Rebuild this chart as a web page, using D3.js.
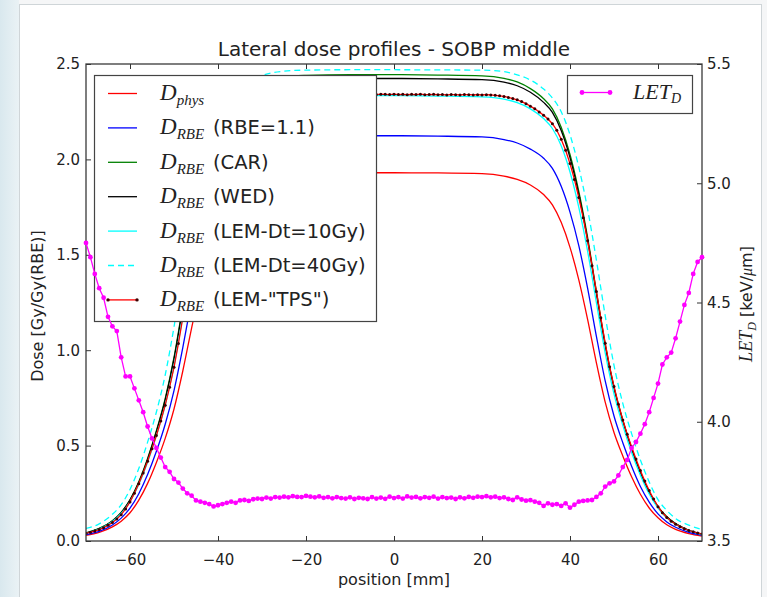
<!DOCTYPE html>
<html>
<head>
<meta charset="utf-8">
<script src="https://cdnjs.cloudflare.com/ajax/libs/d3/7.8.5/d3.min.js"></script>
<style>
  body { margin: 0; background: #fff; }
  svg { display: block; font-family: "DejaVu Sans", sans-serif; }
</style>
</head>
<body>
<div id="chart"></div>
<script>
var doseX = [-70,-67,-64,-62,-60,-58,-56,-54,-52,-50,-48,-46,-44,-42,-40,-38,-36,-33,-30,-25,-20,-10,0,10,20,
             25,28,31,34,36,38,40,42,44,46,48,50,52,54,56,58,60,62,64,67,70];

var dPhys = [0.030,0.045,0.074,0.104,0.148,0.214,0.302,0.412,0.538,0.692,0.891,1.116,1.328,1.506,1.644,1.745,1.807,1.860,1.888,1.920,1.928,1.930,1.930,1.929,1.925,
             1.912,1.895,1.866,1.816,1.762,1.670,1.539,1.369,1.162,0.934,0.728,0.569,0.446,0.337,0.245,0.173,0.122,0.085,0.061,0.039,0.026];
var dRbe11 = [0.034,0.051,0.084,0.120,0.172,0.248,0.348,0.470,0.612,0.788,1.013,1.264,1.492,1.681,1.827,1.931,1.993,2.048,2.082,2.112,2.120,2.124,2.124,2.122,2.118,
              2.104,2.086,2.054,2.006,1.953,1.859,1.724,1.548,1.325,1.073,0.839,0.655,0.515,0.392,0.286,0.204,0.142,0.100,0.072,0.045,0.030];
var dCar = [0.042,0.066,0.106,0.150,0.216,0.310,0.432,0.578,0.746,0.962,1.235,1.526,1.782,1.983,2.140,2.247,2.308,2.364,2.401,2.433,2.440,2.444,2.444,2.442,2.438,
            2.425,2.406,2.371,2.318,2.265,2.169,2.026,1.832,1.591,1.308,1.033,0.808,0.634,0.486,0.361,0.258,0.180,0.127,0.091,0.056,0.036];
var dWed = [0.042,0.065,0.105,0.149,0.214,0.307,0.428,0.573,0.740,0.954,1.225,1.513,1.767,1.967,2.122,2.229,2.289,2.345,2.381,2.413,2.420,2.424,2.424,2.422,2.418,
            2.405,2.386,2.352,2.299,2.246,2.151,2.009,1.817,1.578,1.297,1.024,0.801,0.629,0.482,0.358,0.256,0.179,0.126,0.090,0.056,0.036];
var dLem10 = [0.040,0.063,0.102,0.144,0.206,0.296,0.412,0.552,0.712,0.918,1.179,1.457,1.701,1.894,2.043,2.146,2.204,2.258,2.292,2.323,2.330,2.334,2.334,2.332,2.328,
              2.316,2.297,2.265,2.214,2.162,2.071,1.934,1.749,1.519,1.249,0.986,0.771,0.606,0.464,0.345,0.246,0.172,0.121,0.087,0.054,0.035];
var dLem40 = [0.066,0.090,0.140,0.190,0.270,0.380,0.518,0.676,0.870,1.122,1.413,1.687,1.917,2.097,2.228,2.307,2.359,2.406,2.440,2.462,2.468,2.470,2.470,2.469,2.468,
              2.460,2.443,2.416,2.369,2.322,2.250,2.129,1.959,1.739,1.472,1.181,0.921,0.721,0.563,0.425,0.309,0.217,0.160,0.118,0.083,0.060];

// LEM "TPS" and LET_D are sampled every 1 mm from -70 to 70
var fineX = d3.range(-70, 71, 1);
var dTps = [0.040,0.046,0.052,0.060,0.070,0.082,0.097,0.115,0.138,0.168,
            0.205,0.250,0.300,0.356,0.418,0.484,0.553,0.629,0.712,0.806,
            0.910,1.035,1.170,1.307,1.443,1.574,1.694,1.800,1.895,1.978,
            2.048,2.106,2.153,2.187,2.212,2.231,2.249,2.265,2.279,2.292,
            2.303,2.312,2.319,2.325,2.330,2.333,2.336,2.338,
            2.339,2.341,2.340,2.342,2.340,2.341,2.343,2.341,2.342,2.340,
            2.342,2.341,2.343,2.342,2.341,2.343,2.341,2.342,2.340,2.342,
            2.341,2.340,2.342,2.340,2.341,2.339,2.341,2.340,2.342,2.339,
            2.340,2.341,2.339,2.340,2.338,2.340,2.339,2.338,2.340,2.339,
            2.338,2.339,2.338,2.339,
            2.338,2.336,2.333,2.330,2.325,2.319,2.312,2.303,2.292,2.279,
            2.265,2.249,2.231,2.212,2.187,2.153,2.106,2.048,1.978,1.895,
            1.800,1.694,1.574,1.443,1.307,1.170,1.037,0.913,0.810,0.717,
            0.634,0.560,0.494,0.430,0.370,0.315,0.265,0.220,0.180,0.148,
            0.123,0.104,0.088,0.075,0.064,0.055,0.048,0.042,0.037];
var letD = [4.75,4.69,4.62,4.56,4.52,4.44,4.40,4.38,4.27,4.19,
            4.19,4.14,4.09,4.04,3.98,3.93,3.89,3.85,3.81,3.79,
            3.76,3.745,3.72,3.70,3.69,3.67,3.665,3.66,3.655,3.645,
            3.65,3.655,3.66,3.665,3.66,3.67,3.672,3.668,3.675,3.678,
            3.676,3.682,3.678,3.684,3.682,3.686,3.683,3.688,3.685,3.684,
            3.689,3.686,3.683,3.687,3.681,3.684,3.679,3.684,3.68,3.678,
            3.683,3.676,3.681,3.679,3.676,3.684,3.678,3.682,3.677,3.686,
            3.68,3.684,3.678,3.687,3.682,3.685,3.679,3.684,3.681,3.686,
            3.678,3.684,3.68,3.682,3.676,3.683,3.679,3.685,3.681,3.686,
            3.684,3.688,3.683,3.686,3.68,3.683,3.676,3.672,3.683,3.674,
            3.669,3.671,3.665,3.66,3.647,3.658,3.652,3.655,3.647,3.658,
            3.64,3.652,3.665,3.668,3.67,3.672,3.685,3.70,3.728,3.742,
            3.75,3.775,3.81,3.84,3.89,3.915,3.95,3.99,4.04,4.10,
            4.16,4.24,4.27,4.29,4.35,4.42,4.49,4.54,4.62,4.67,
            4.69];

var xTicks = [-60,-40,-20,0,20,40,60];
var doseTicks = [0.0,0.5,1.0,1.5,2.0,2.5];
var letTicks = [3.5,4.0,4.5,5.0,5.5];

var series = [
  {sub: "phys", extra: "",               vals: dPhys,  color: "#ff0000", dash: null},
  {sub: "RBE",  extra: "(RBE=1.1)",      vals: dRbe11, color: "#0000ff", dash: null},
  {sub: "RBE",  extra: "(CAR)",          vals: dCar,   color: "#008000", dash: null},
  {sub: "RBE",  extra: "(WED)",          vals: dWed,   color: "#000000", dash: null},
  {sub: "RBE",  extra: "(LEM-Dt=10Gy)",  vals: dLem10, color: "#00ffff", dash: null},
  {sub: "RBE",  extra: "(LEM-Dt=40Gy)",  vals: dLem40, color: "#00ffff", dash: "6,4"},
  {sub: "RBE",  extra: "(LEM-\"TPS\")",  vals: dTps,   color: "#ff0000", dash: null, fine: true}
];

(function() {
  var W = 767, H = 597;
  var left = 86, right = 702, top = 64, bottom = 541;

  var svg = d3.select("#chart").append("svg")
      .attr("width", W).attr("height", H);

  // page background bits
  var grad = svg.append("defs").append("linearGradient").attr("id", "side");
  grad.append("stop").attr("offset", "0%").attr("stop-color", "#d9e8ee");
  grad.append("stop").attr("offset", "100%").attr("stop-color", "#eaf2f5");
  svg.append("rect").attr("width", W).attr("height", H).attr("fill", "#f5f6f7");
  svg.append("rect").attr("x", 0).attr("y", 0).attr("width", 19).attr("height", H).attr("fill", "url(#side)");
  svg.append("rect").attr("x", 19.5).attr("y", 4.5).attr("width", 742).attr("height", H)
      .attr("fill", "#fff").attr("stroke", "#cfd5d8");

  svg.append("defs").append("clipPath").attr("id", "plotclip")
    .append("rect").attr("x", left).attr("y", top).attr("width", right - left).attr("height", bottom - top);

  var x = d3.scaleLinear().domain([-70, 70]).range([left, right]);
  var y = d3.scaleLinear().domain([0, 2.5]).range([bottom, top]);
  var y2 = d3.scaleLinear().domain([3.5, 5.5]).range([bottom, top]);

  // curves
  var plot = svg.append("g").attr("clip-path", "url(#plotclip)");
  series.forEach(function(s) {
    var xs = s.fine ? fineX : doseX;
    var pts = s.vals.map(function(v, i) { return [xs[i], v]; });
    var line = d3.line()
      .x(function(d) { return x(d[0]); })
      .y(function(d) { return y(d[1]); })
      .curve(s.fine ? d3.curveLinear : d3.curveMonotoneX);
    plot.append("path").datum(pts)
      .attr("d", line)
      .attr("fill", "none")
      .attr("stroke", s.color)
      .attr("stroke-width", 1.3)
      .attr("stroke-dasharray", s.dash);
    if (s.fine) {
      plot.selectAll(null).data(pts).enter().append("circle")
        .attr("cx", function(d) { return x(d[0]); })
        .attr("cy", function(d) { return y(d[1]); })
        .attr("r", 1.5)
        .attr("fill", "#3a0000");
    }
  });

  // axes, ticks pointing inward
  var fmt = d3.format(".1f");
  var gx = svg.append("g").attr("transform", "translate(0," + bottom + ")")
    .call(d3.axisBottom(x).tickValues(xTicks).tickSize(-5).tickPadding(13));
  var gxt = svg.append("g").attr("transform", "translate(0," + top + ")")
    .call(d3.axisTop(x).tickValues(xTicks).tickSize(-5).tickFormat(""));
  var gy = svg.append("g").attr("transform", "translate(" + left + ",0)")
    .call(d3.axisLeft(y).tickValues(doseTicks).tickSize(-5).tickPadding(6).tickFormat(fmt));
  var gy2 = svg.append("g").attr("transform", "translate(" + right + ",0)")
    .call(d3.axisRight(y2).tickValues(letTicks).tickSize(-5).tickPadding(5).tickFormat(fmt));
  [gx, gxt, gy, gy2].forEach(function(g) {
    g.select(".domain").remove();
    g.selectAll(".tick line").attr("stroke", "#333");
    g.selectAll("text").attr("font-size", 15).attr("font-family", "DejaVu Sans").attr("fill", "#222");
  });

  svg.append("rect").attr("x", left).attr("y", top)
    .attr("width", right - left).attr("height", bottom - top)
    .attr("fill", "none").attr("stroke", "#3a3a3a").attr("stroke-width", 1.3);

  // titles and labels
  svg.append("text").attr("x", 394).attr("y", 56).attr("text-anchor", "middle")
    .attr("font-size", 20).attr("fill", "#222").text("Lateral dose profiles - SOBP middle");
  svg.append("text").attr("x", 394).attr("y", 585).attr("text-anchor", "middle")
    .attr("font-size", 16).attr("fill", "#222").text("position [mm]");
  svg.append("text").attr("transform", "translate(43,306) rotate(-90)").attr("text-anchor", "middle")
    .attr("font-size", 16).attr("fill", "#222").text("Dose [Gy/Gy(RBE)]");

  var rl = svg.append("text").attr("transform", "translate(752,304) rotate(-90)").attr("text-anchor", "middle")
    .attr("font-size", 16).attr("fill", "#222");
  rl.append("tspan").attr("font-family", "Liberation Serif").attr("font-style", "italic").attr("font-size", 18).text("LET");
  rl.append("tspan").attr("font-family", "Liberation Serif").attr("font-style", "italic").attr("font-size", 12).attr("dy", 4).text("D");
  rl.append("tspan").attr("dy", -4).text(" [keV/");
  rl.append("tspan").attr("font-family", "Liberation Serif").attr("font-style", "italic").text("\u03bc");
  rl.append("tspan").text("m]");

  // dose legend
  var lg = svg.append("g");
  lg.append("rect").attr("x", 94.5).attr("y", 75.5).attr("width", 282).attr("height", 246)
    .attr("fill", "#fff").attr("stroke", "#444").attr("stroke-width", 1.2);
  series.forEach(function(s, i) {
    var cy = 93.5 + i * 34.4;
    lg.append("line").attr("x1", 108).attr("x2", 137).attr("y1", cy).attr("y2", cy)
      .attr("stroke", s.color).attr("stroke-width", 1.3).attr("stroke-dasharray", s.dash);
    if (s.fine) {
      [108, 137].forEach(function(px) {
        lg.append("circle").attr("cx", px).attr("cy", cy).attr("r", 1.7).attr("fill", "#3a0000");
      });
    }
    var t = lg.append("text").attr("x", 160).attr("y", cy + 6.5).attr("fill", "#222");
    t.append("tspan").attr("font-family", "Liberation Serif").attr("font-style", "italic").attr("font-size", 23).text("D");
    t.append("tspan").attr("font-family", "Liberation Serif").attr("font-style", "italic").attr("font-size", 15)
      .attr("dy", 5).text(s.sub);
    lg.append("text").attr("x", 213).attr("y", cy + 6.5).attr("font-size", 19.5).attr("fill", "#222").text(s.extra);
  });

  // LET_D on the twin axis, drawn above the dose legend
  var letPts = letD.map(function(v, i) { return [fineX[i], v]; });
  var letLine = d3.line().x(function(d) { return x(d[0]); }).y(function(d) { return y2(d[1]); });
  svg.append("path").datum(letPts).attr("d", letLine)
    .attr("fill", "none").attr("stroke", "#ff00ff").attr("stroke-width", 1.3);
  svg.selectAll(".letdot").data(letPts).enter().append("circle")
    .attr("cx", function(d) { return x(d[0]); })
    .attr("cy", function(d) { return y2(d[1]); })
    .attr("r", 2.4).attr("fill", "#ff00ff");

  var lg2 = svg.append("g");
  lg2.append("rect").attr("x", 567.5).attr("y", 75.5).attr("width", 125).attr("height", 38)
    .attr("fill", "#fff").attr("stroke", "#444").attr("stroke-width", 1.2);
  lg2.append("line").attr("x1", 582).attr("x2", 610).attr("y1", 92.5).attr("y2", 92.5)
    .attr("stroke", "#ff00ff").attr("stroke-width", 1.3);
  [582, 610].forEach(function(px) {
    lg2.append("circle").attr("cx", px).attr("cy", 92.5).attr("r", 2.4).attr("fill", "#ff00ff");
  });
  var lt = lg2.append("text").attr("x", 633).attr("y", 99).attr("fill", "#222")
    .attr("font-family", "Liberation Serif").attr("font-style", "italic");
  lt.append("tspan").attr("font-size", 22).text("LET");
  lt.append("tspan").attr("font-size", 14).attr("dy", 4).text("D");
})();
</script>
</body>
</html>
